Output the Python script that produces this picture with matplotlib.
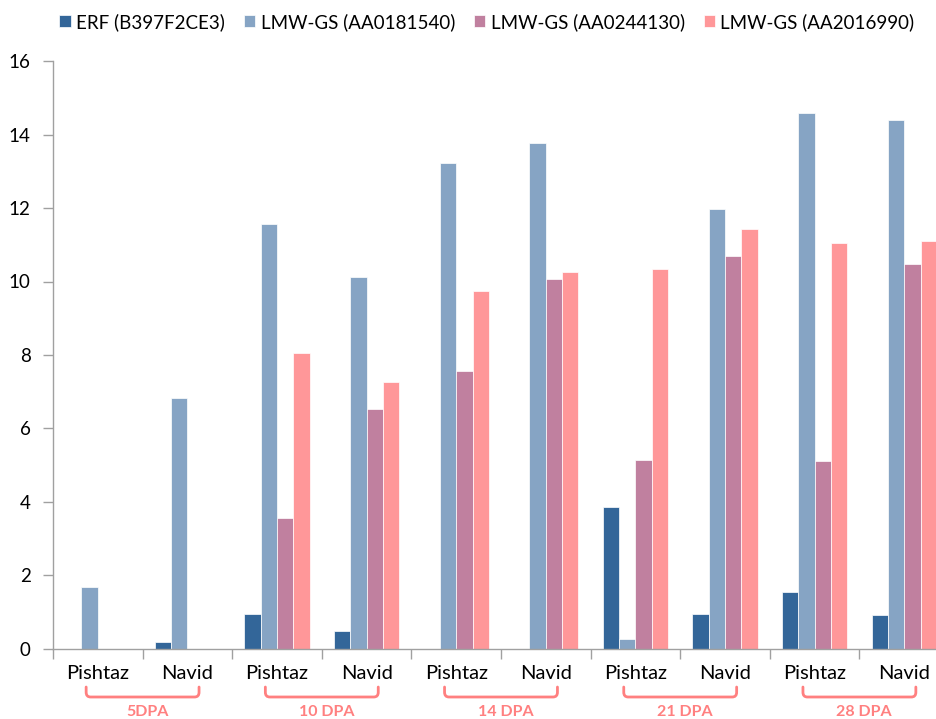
import matplotlib
matplotlib.use("Agg")
import matplotlib.pyplot as plt
import numpy as np
from matplotlib.path import Path
from matplotlib.patches import PathPatch

plt.rcParams['font.family'] = ['Lato', 'DejaVu Sans']

cultivars = ["Pishtaz", "Navid", "Pishtaz", "Navid", "Pishtaz", "Navid",
             "Pishtaz", "Navid", "Pishtaz", "Navid"]
stages = ["5DPA", "10 DPA", "14 DPA", "21 DPA", "28 DPA"]

series_names = ["ERF (B397F2CE3)", "LMW-GS (AA0181540)",
                "LMW-GS (AA0244130)", "LMW-GS (AA2016990)"]
erf = [0, 0.17, 0.93, 0.49, 0, 0, 3.86, 0.93, 1.54, 0.90]
lmw_181540 = [1.68, 6.83, 11.57, 10.13, 13.24, 13.78, 0.25, 11.98, 14.58, 14.39]
lmw_244130 = [0, 0, 3.55, 6.53, 7.55, 10.06, 5.14, 10.70, 5.12, 10.49]
lmw_2016990 = [0, 0, 8.04, 7.25, 9.75, 10.27, 10.34, 11.42, 11.04, 11.10]

colors = ["#336699", "#86A4C4", "#C0809F", "#FF9799"]
bracket_color = "#FF8080"

fig = plt.figure(figsize=(9.36, 7.19), dpi=100)
ax = fig.add_axes([53 / 936, 70.5 / 719, 896 / 936, 587.2 / 719])

x = np.arange(len(cultivars))
w = 0.182
all_series = [erf, lmw_181540, lmw_244130, lmw_2016990]
for i, (vals, name, c) in enumerate(zip(all_series, series_names, colors)):
    ax.bar(x + (i - 1.5) * w, vals, width=w, color=c, label=name,
           edgecolor="white", linewidth=0.5)

ax.set_xlim(-0.5, len(cultivars) - 0.5)
ax.set_ylim(0, 16)
ax.set_yticks(np.arange(0, 17, 2))
ax.set_xticks(x)
ax.set_xticklabels(cultivars)
ax.set_xticks(np.arange(-0.5, len(cultivars), 1), minor=True)
ax.tick_params(axis='x', which='major', length=0, pad=12, labelsize=14.5)
ax.tick_params(axis='x', which='minor', length=7, width=1, color="#A0A0A0")
ax.tick_params(axis='y', length=7, width=1, color="#A0A0A0", pad=9, labelsize=13.5)

for s in ["top", "right"]:
    ax.spines[s].set_visible(False)
for s in ["left", "bottom"]:
    ax.spines[s].set_color("#A0A0A0")
    ax.spines[s].set_linewidth(1)

# brackets grouping the two cultivars of each stage
trans = ax.get_xaxis_transform()
y_top, y_bot = -0.0656, -0.0826
rx, ry = 0.05, 0.008
for k, stage in enumerate(stages):
    pc = 2 * k + 0.5
    x0, x1 = pc - 0.63, pc + 0.63
    verts = [(x0, y_top), (x0, y_bot + ry), (x0, y_bot), (x0 + rx, y_bot),
             (x1 - rx, y_bot), (x1, y_bot), (x1, y_bot + ry), (x1, y_top)]
    codes = [Path.MOVETO, Path.LINETO, Path.CURVE3, Path.CURVE3,
             Path.LINETO, Path.CURVE3, Path.CURVE3, Path.LINETO]
    ax.add_patch(PathPatch(Path(verts, codes), transform=trans, fill=False,
                           edgecolor=bracket_color, linewidth=2,
                           capstyle='round', clip_on=False))
    ax.text(pc + 0.05, -0.096, stage, transform=trans, ha='center', va='top',
            fontsize=11.5, fontweight='bold', color=bracket_color)

fig.legend(loc='center', bbox_to_anchor=(487 / 936, 1 - 22 / 719), ncol=4,
           frameon=False, fontsize=13.5, handlelength=0.6, handleheight=0.6,
           handletextpad=0.3, columnspacing=1.0)

fig.savefig("out.png", dpi=100)
